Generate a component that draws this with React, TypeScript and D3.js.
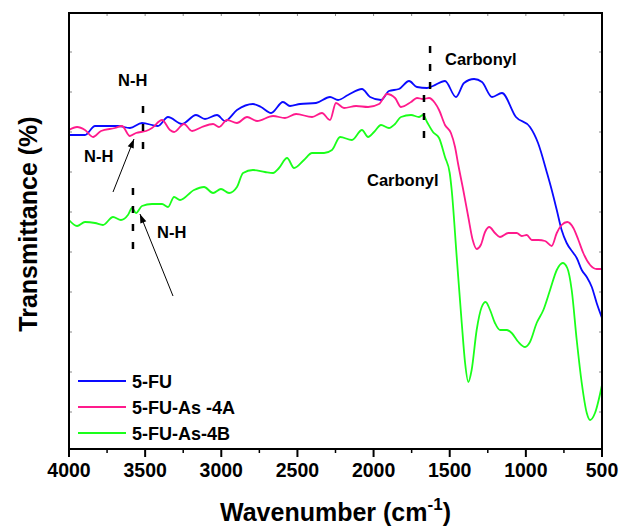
import React from "react";
import * as d3 from "d3";

const W = 620;
const H = 528;
const M = { left: 69, right: 602, top: 13, bottom: 449 };

// wavenumber (cm-1) and transmittance (arbitrary units)
const fuWave = [4000, 3895, 3829, 3678, 3600, 3521, 3416, 3350, 3258, 3166, 3107, 3028, 2976, 2897, 2792, 2739, 2673, 2595, 2549, 2483, 2378, 2286, 2233, 2168, 2076, 2023, 1951, 1899, 1833, 1767, 1715, 1649, 1610, 1531, 1459, 1406, 1340, 1288, 1222, 1157, 1065, 973, 920, 861, 830, 797, 765, 732, 688, 666, 633, 600, 567, 535, 500];
const fuT = [314, 314, 323, 323, 321, 326, 323, 332, 325, 334, 330, 334, 328, 339, 345, 342, 336, 347, 343, 345, 346, 352, 349, 354, 360, 352, 349, 358, 360, 368, 362, 361, 363, 368, 352, 366, 370, 367, 352, 356, 332, 322, 306, 276, 259, 239, 219, 206, 196, 191, 179, 172, 162, 146, 131];

const asAWave = [4000, 3947, 3895, 3842, 3790, 3698, 3652, 3600, 3560, 3494, 3455, 3389, 3337, 3310, 3245, 3192, 3127, 3054, 3015, 2962, 2897, 2831, 2765, 2660, 2582, 2509, 2404, 2339, 2286, 2247, 2194, 2115, 2036, 1964, 1912, 1859, 1820, 1754, 1715, 1675, 1636, 1597, 1570, 1531, 1492, 1465, 1446, 1411, 1378, 1349, 1323, 1296, 1268, 1240, 1203, 1170, 1115, 1060, 1027, 994, 961, 918, 874, 830, 797, 765, 728, 688, 655, 623, 578, 535, 500];
const asAT = [319, 322, 319, 312, 318, 321, 323, 313, 316, 318, 321, 329, 319, 317, 325, 318, 322, 325, 322, 329, 326, 332, 328, 333, 331, 335, 332, 336, 329, 346, 341, 343, 342, 345, 355, 351, 342, 347, 351, 350, 351, 346, 339, 324, 316, 302, 286, 259, 232, 209, 200, 204, 217, 222, 216, 212, 216, 216, 213, 214, 209, 209, 208, 203, 216, 224, 227, 221, 209, 196, 184, 180, 180];

const asBWave = [4000, 3947, 3895, 3829, 3777, 3711, 3659, 3613, 3586, 3560, 3521, 3455, 3389, 3350, 3310, 3271, 3179, 3113, 3054, 3002, 2949, 2897, 2857, 2792, 2713, 2660, 2621, 2568, 2522, 2457, 2404, 2325, 2273, 2220, 2142, 2076, 2036, 1997, 1951, 1899, 1859, 1820, 1754, 1702, 1675, 1649, 1610, 1570, 1531, 1500, 1487, 1454, 1421, 1399, 1378, 1356, 1323, 1290, 1264, 1235, 1203, 1170, 1126, 1093, 1049, 1005, 973, 929, 885, 841, 797, 758, 728, 699, 666, 633, 600, 578, 546, 500];
const asBT = [229, 223, 227, 226, 224, 232, 229, 234, 241, 236, 243, 245, 245, 242, 252, 249, 259, 262, 256, 260, 256, 262, 276, 279, 277, 276, 281, 291, 281, 289, 296, 296, 299, 312, 309, 319, 312, 317, 324, 321, 325, 332, 334, 332, 334, 327, 317, 311, 292, 276, 259, 192, 126, 86, 67, 79, 119, 142, 147, 139, 126, 119, 119, 116, 107, 102, 107, 126, 139, 159, 179, 186, 181, 159, 109, 66, 36, 29, 36, 64];

const seriesNames = ["5-FU", "5-FU-As -4A", "5-FU-As-4B"];
const seriesColors = ["#0a0aff", "#ff1a8c", "#1aff1a"];

const xTicks = [4000, 3500, 3000, 2500, 2000, 1500, 1000, 500];
const xMinorTicks = [3750, 3250, 2750, 2250, 1750, 1250, 750];
const yTicks = [37, 77, 117, 157, 197, 237, 277, 317, 357, 397];

// annotations: [wavenumber, transmittance]
const dashLines = [
  { x: 1629, y1: 403, y2: 357 },
  { x: 1669, y1: 354, y2: 309 },
  { x: 3514, y1: 343, y2: 298 },
  { x: 3580, y1: 261, y2: 191 },
];
const labels = [
  { text: "Carbonyl", x: 1531, y: 384 },
  { text: "Carbonyl", x: 2043, y: 263 },
  { text: "N-H", x: 3678, y: 363 },
  { text: "N-H", x: 3901, y: 287 },
  { text: "N-H", x: 3422, y: 211 },
];
const arrows = [
  { x1: 3711, y1: 257, x2: 3573, y2: 310 },
  { x1: 3317, y1: 153, x2: 3534, y2: 235 },
];

const FONT = "'Liberation Sans', Arial, sans-serif";

export default function App() {
  const x = d3.scaleLinear().domain([4000, 500]).range([M.left, M.right]);
  const y = d3.scaleLinear().domain([0, 436]).range([M.bottom, M.top]);
  const line = d3
    .line<[number, number]>()
    .x((d) => x(d[0]))
    .y((d) => y(d[1]))
    .curve(d3.curveMonotoneX);

  const data = [
    d3.zip(fuWave, fuT) as [number, number][],
    d3.zip(asAWave, asAT) as [number, number][],
    d3.zip(asBWave, asBT) as [number, number][],
  ];

  const arrowHead = (a: { x1: number; y1: number; x2: number; y2: number }) => {
    const X1 = x(a.x1), Y1 = y(a.y1), X2 = x(a.x2), Y2 = y(a.y2);
    const ang = Math.atan2(Y2 - Y1, X2 - X1);
    const len = 9, hw = 3.2;
    const bx = X2 - len * Math.cos(ang), by = Y2 - len * Math.sin(ang);
    const px = -Math.sin(ang) * hw, py = Math.cos(ang) * hw;
    return `M${X2},${Y2}L${bx + px},${by + py}L${bx - px},${by - py}Z`;
  };

  return (
    <svg width={W} height={H} style={{ position: "absolute", left: 0, top: 0, background: "#fff" }} fontFamily={FONT}>
      <rect x={0} y={0} width={W} height={H} fill="#fff" />
      {yTicks.map((t) => (
        <g key={"yt" + t} stroke="#888" strokeWidth={1}>
          <line x1={M.left} x2={M.left + 3} y1={y(t)} y2={y(t)} />
          <line x1={M.right} x2={M.right - 3} y1={y(t)} y2={y(t)} />
        </g>
      ))}
      {[...xTicks, ...xMinorTicks].map((t) => (
        <line key={"tt" + t} x1={x(t)} x2={x(t)} y1={M.top} y2={M.top + 3} stroke="#888" strokeWidth={1} />
      ))}
      <g fill="none" strokeWidth={1.8} strokeLinejoin="round">
        {data.map((d, i) => (
          <path key={i} d={line(d) || ""} stroke={seriesColors[i]} />
        ))}
      </g>
      {dashLines.map((d, i) => (
        <line key={"dl" + i} x1={x(d.x)} x2={x(d.x)} y1={y(d.y1)} y2={y(d.y2)} stroke="#000" strokeWidth={2.5} strokeDasharray="7,11" />
      ))}
      {arrows.map((a, i) => (
        <g key={"ar" + i}>
          <line x1={x(a.x1)} y1={y(a.y1)} x2={x(a.x2)} y2={y(a.y2)} stroke="#000" strokeWidth={1} />
          <path d={arrowHead(a)} fill="#000" />
        </g>
      ))}
      {labels.map((l, i) => (
        <text key={"lb" + i} x={x(l.x)} y={y(l.y)} fontSize={16.5} fontWeight="bold" fill="#000">
          {l.text}
        </text>
      ))}
      <rect x={M.left} y={M.top} width={M.right - M.left} height={M.bottom - M.top} fill="none" stroke="#000" strokeWidth={2} />
      {xTicks.map((t) => (
        <g key={"bt" + t}>
          <line x1={x(t)} x2={x(t)} y1={M.bottom} y2={M.bottom + 8} stroke="#000" strokeWidth={2} />
          <text x={x(t)} y={477} textAnchor="middle" fontSize={19.5} fontWeight="bold" fill="#000">
            {t}
          </text>
        </g>
      ))}
      {xMinorTicks.map((t) => (
        <line key={"bm" + t} x1={x(t)} x2={x(t)} y1={M.bottom} y2={M.bottom + 4} stroke="#000" strokeWidth={1.5} />
      ))}
      {seriesNames.map((n, i) => (
        <g key={"lg" + i}>
          <line x1={78} x2={126} y1={381 + i * 26} y2={381 + i * 26} stroke={seriesColors[i]} strokeWidth={2} />
          <text x={132} y={388 + i * 26} fontSize={18} fontWeight="bold" fill="#000">
            {n}
          </text>
        </g>
      ))}
      <text x={(M.left + M.right) / 2} y={521} textAnchor="middle" fontSize={25} fontWeight="bold" fill="#000">
        Wavenumber (cm
        <tspan fontSize={17} dy={-11}>-1</tspan>
        <tspan dy={11}>)</tspan>
      </text>
      <text transform={`translate(37,224) rotate(-90)`} textAnchor="middle" fontSize={25} fontWeight="bold" fill="#000">
        Transmittance (%)
      </text>
    </svg>
  );
}
